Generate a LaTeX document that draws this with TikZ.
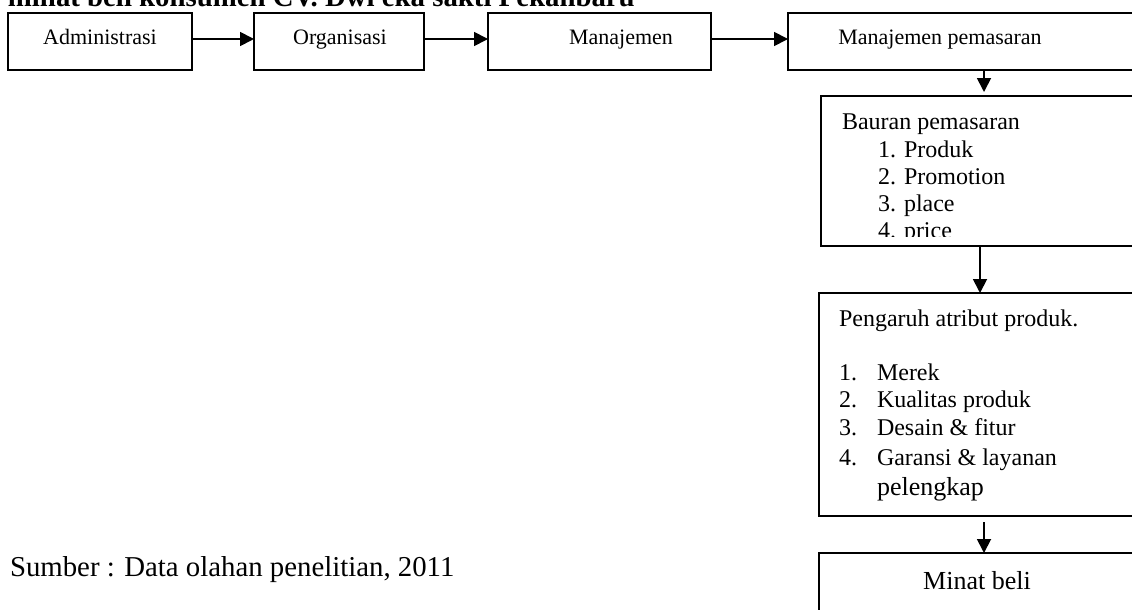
\documentclass[tikz,border=0pt]{standalone}
\usepackage{fontspec}
\setmainfont{Liberation Serif}
\usetikzlibrary{arrows.meta}
\tikzset{
  boxline/.style={draw=black, line width=1.8pt},
  txt/.style={inner sep=0pt, outer sep=0pt},
  topfont/.style={font=\fontsize{22}{26}\selectfont},
  listfont/.style={font=\fontsize{24}{28}\selectfont},
  bigfont/.style={font=\fontsize{26}{30}\selectfont},
  capfont/.style={font=\fontsize{28.8}{33}\selectfont},
  arr/.style={line width=1.8pt, -{Triangle[length=14pt,width=14pt]}},
}
\begin{document}
\begin{tikzpicture}[x=1pt,y=-1pt]
\useasboundingbox (0,0) rectangle (1132,610);
\clip (0,0) rectangle (1132,610);
% title (clipped at top)
\node[txt, anchor=base west, font=\fontsize{28.8}{33}\selectfont\bfseries] (title) at (8,7) {minat beli konsumen CV. Dwi eka sakti Pekanbaru};
% boxes
\path[boxline] (8,13) rectangle (192,70);
\node[txt, minimum width=184pt, minimum height=57pt] (adm) at (100,41.5) {};
\path[boxline] (254,13) rectangle (424,70);
\node[txt, minimum width=170pt, minimum height=57pt] (org) at (339,41.5) {};
\path[boxline] (488,13) rectangle (711,70);
\node[txt, minimum width=223pt, minimum height=57pt] (man) at (599.5,41.5) {};
\path[boxline] (788,13) rectangle (1150,70);
\node[txt, minimum width=362pt, minimum height=57pt] (mp) at (969,41.5) {};
\path[boxline] (821,96) rectangle (1150,246);
\node[txt, minimum width=329pt, minimum height=150pt] (bau) at (985.5,171) {};
\path[boxline] (819,293) rectangle (1150,516);
\node[txt, minimum width=331pt, minimum height=223pt] (pen) at (984.5,404.5) {};
\path[boxline] (819,553) rectangle (1150,640);
\node[txt, minimum width=331pt, minimum height=87pt] (min) at (984.5,596.5) {};
% box texts
\node[txt, topfont, anchor=base] (tadm) at (100,45) {Administrasi};
\node[txt, topfont, anchor=base] (torg) at (340,45) {Organisasi};
\node[txt, topfont, anchor=base] (tman) at (621,45) {Manajemen};
\node[txt, topfont, anchor=base] (tmp) at (940,45) {Manajemen pemasaran};
\begin{scope}
\clip (821,96) rectangle (1150,236.5);
\node[txt, listfont, anchor=base west] (b0) at (842,129) {Bauran pemasaran};
\node[txt, listfont, anchor=base west] (b1) at (878,157) {1. Produk};
\node[txt, listfont, anchor=base west] (b2) at (878,184) {2. Promotion};
\node[txt, listfont, anchor=base west] (b3) at (878,211) {3. place};
\node[txt, listfont, anchor=base west] (b4) at (878,238) {4. price};
\end{scope}
\node[txt, listfont, anchor=base west] (p0) at (839,326) {Pengaruh atribut produk.};
\node[txt, listfont, anchor=base west] (n1) at (839,380) {1.};
\node[txt, listfont, anchor=base west] (p1) at (877,380) {Merek};
\node[txt, listfont, anchor=base west] (n2) at (839,407) {2.};
\node[txt, listfont, anchor=base west] (p2) at (877,407) {Kualitas produk};
\node[txt, listfont, anchor=base west] (n3) at (839,435) {3.};
\node[txt, listfont, anchor=base west] (p3) at (877,435) {Desain \& fitur};
\node[txt, listfont, anchor=base west] (n4) at (839,465) {4.};
\node[txt, listfont, anchor=base west] (p4) at (877,465) {Garansi \& layanan};
\node[txt, bigfont, anchor=base west] (p5) at (877,495) {pelengkap};
\node[txt, bigfont, anchor=base] (tmin) at (977,589) {Minat beli};
\node[txt, capfont, anchor=base west] (src) at (10,576) {Sumber : Data olahan penelitian, 2011};
% connectors
\draw[arr] (adm.east |- 0,39) -- (org.west |- 0,39);
\draw[arr] (org.east |- 0,39) -- (man.west |- 0,39);
\draw[arr] (man.east |- 0,39) -- (mp.west |- 0,39);
\draw[arr, shorten >=4pt] (mp.south -| 984,0) -- (bau.north -| 984,0);
\draw[arr] (bau.south -| 980,0) -- (pen.north -| 980,0);
\draw[arr, shorten <=6pt] (pen.south -| 984,0) -- (min.north -| 984,0);
\end{tikzpicture}
\end{document}
